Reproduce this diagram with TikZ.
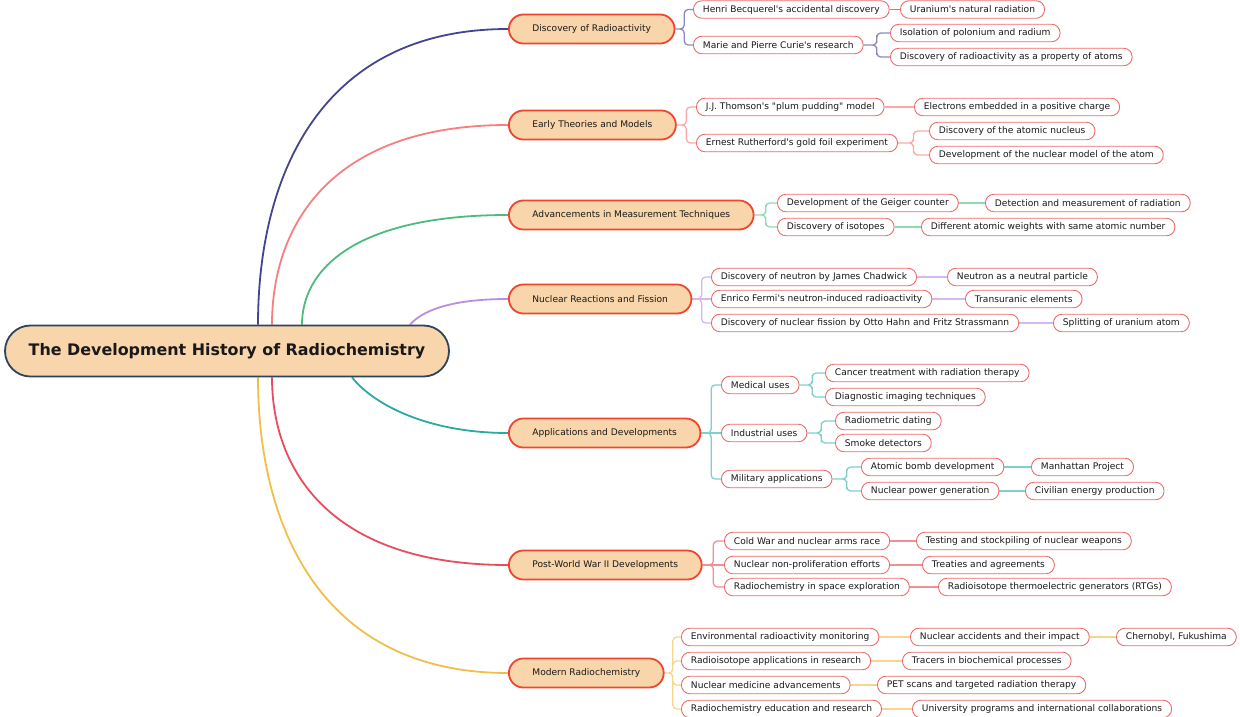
\documentclass[tikz,border=0pt]{standalone}
\usepackage{fontspec}
\setmainfont{DejaVu Sans}[Ligatures=TeXOff]
\usepackage{tikz}
\usetikzlibrary{calc,backgrounds}

\definecolor{peach}{HTML}{F8D5AA}
\definecolor{rootline}{HTML}{2B4462}
\definecolor{topicline}{HTML}{F0452E}
\definecolor{itemline}{HTML}{EE6B6B}
\definecolor{navy}{HTML}{45458F}
\definecolor{navyl}{HTML}{8A8AC4}
\definecolor{salmon}{HTML}{F77F7F}
\definecolor{salmonl}{HTML}{F9A9A9}
\definecolor{mint}{HTML}{4CBB7E}
\definecolor{mintl}{HTML}{8FD8B0}
\definecolor{lavender}{HTML}{B88DE3}
\definecolor{lavenderl}{HTML}{D4B8EE}
\definecolor{teal}{HTML}{2BAAA0}
\definecolor{teall}{HTML}{7FCFCA}
\definecolor{rose}{HTML}{E84D5E}
\definecolor{rosel}{HTML}{EE8F99}
\definecolor{gold}{HTML}{F2BE4A}
\definecolor{goldl}{HTML}{F6D68C}

\begin{document}
\begin{tikzpicture}[
    x=1pt, y=-1pt,
    font=\fontsize{9.1}{11}\selectfont,
    every node/.style={text=black!90},
    root/.style={rectangle, draw=rootline, line width=1.8pt, fill=peach, rounded corners=25.5pt, minimum width=444pt, minimum height=51pt, font=\fontsize{15.9}{19}\selectfont\bfseries},
    topic/.style={rectangle, draw=topicline, line width=1.8pt, fill=peach, rounded corners=14.5pt, minimum height=29pt, inner xsep=23.5pt, anchor=west},
    item/.style={rectangle, draw=itemline, line width=0.9pt, fill=white, rounded corners=8.5pt, minimum height=17.5pt, inner xsep=9.5pt, inner ysep=0pt, anchor=west},
    branch/.style={line width=1.8pt},
    link/.style={line width=1.3pt, rounded corners=4pt, to path={-| ($(\tikztostart)!0.5!(\tikztotarget)$) |- (\tikztotarget)}}
]
\useasboundingbox (0,0) rectangle (1240,716);

\node[root] (root) at (227,351) {The Development History of Radiochemistry};

% Discovery of Radioactivity
\node[topic] (disc) at (508,29) {Discovery of Radioactivity};
\node[item] (becq) at (693,9.5) {Henri Becquerel's accidental discovery};
\node[item] (curie) at (693,45) {Marie and Pierre Curie's research};
\node[item] (uran) at (900,9.5) {Uranium's natural radiation};
\node[item] (polo) at (890,33) {Isolation of polonium and radium};
\node[item] (prop) at (890,57) {Discovery of radioactivity as a property of atoms};

% Early Theories and Models
\node[topic] (early) at (508,125) {Early Theories and Models};
\node[item] (thom) at (696,107) {J.J. Thomson's "plum pudding" model};
\node[item] (ruth) at (696,143) {Ernest Rutherford's gold foil experiment};
\node[item] (elec) at (914,107) {Electrons embedded in a positive charge};
\node[item] (nucl) at (929,131) {Discovery of the atomic nucleus};
\node[item] (model) at (929,155) {Development of the nuclear model of the atom};

% Advancements in Measurement Techniques
\node[topic] (meas) at (508,215) {Advancements in Measurement Techniques};
\node[item] (geig) at (777,203) {Development of the Geiger counter};
\node[item] (isot) at (777,227) {Discovery of isotopes};
\node[item] (detect) at (985,203) {Detection and measurement of radiation};
\node[item] (weights) at (921,227) {Different atomic weights with same atomic number};

% Nuclear Reactions and Fission
\node[topic] (fiss) at (508,299) {Nuclear Reactions and Fission};
\node[item] (chad) at (711,277) {Discovery of neutron by James Chadwick};
\node[item] (fermi) at (711,299) {Enrico Fermi's neutron-induced radioactivity};
\node[item] (hahn) at (711,323) {Discovery of nuclear fission by Otto Hahn and Fritz Strassmann};
\node[item] (neut) at (947,277) {Neutron as a neutral particle};
\node[item] (trans) at (965,299) {Transuranic elements};
\node[item] (split) at (1053,323) {Splitting of uranium atom};

% Applications and Developments
\node[topic] (appl) at (508,433) {Applications and Developments};
\node[item] (med) at (721,385) {Medical uses};
\node[item] (ind) at (721,433) {Industrial uses};
\node[item] (mil) at (721,479) {Military applications};
\node[item] (cancer) at (825,373) {Cancer treatment with radiation therapy};
\node[item] (diag) at (825,397) {Diagnostic imaging techniques};
\node[item] (dating) at (835,421) {Radiometric dating};
\node[item] (smoke) at (835,443) {Smoke detectors};
\node[item] (bomb) at (861,467) {Atomic bomb development};
\node[item] (power) at (861,491) {Nuclear power generation};
\node[item] (manh) at (1031,467) {Manhattan Project};
\node[item] (civil) at (1025,491) {Civilian energy production};

% Post-World War II Developments
\node[topic] (post) at (508,565) {Post-World War II Developments};
\node[item] (cold) at (724,541) {Cold War and nuclear arms race};
\node[item] (nonp) at (724,565) {Nuclear non-proliferation efforts};
\node[item] (space) at (724,587) {Radiochemistry in space exploration};
\node[item] (stock) at (916,541) {Testing and stockpiling of nuclear weapons};
\node[item] (treat) at (922,565) {Treaties and agreements};
\node[item] (rtg) at (938,587) {Radioisotope thermoelectric generators (RTGs)};

% Modern Radiochemistry
\node[topic] (modern) at (508,673) {Modern Radiochemistry};
\node[item] (env) at (681,637) {Environmental radioactivity monitoring};
\node[item] (resr) at (681,661) {Radioisotope applications in research};
\node[item] (nmed) at (681,685) {Nuclear medicine advancements};
\node[item] (educ) at (681,709) {Radiochemistry education and research};
\node[item] (acc) at (910,637) {Nuclear accidents and their impact};
\node[item] (tracer) at (902,661) {Tracers in biochemical processes};
\node[item] (pet) at (877,685) {PET scans and targeted radiation therapy};
\node[item] (univ) at (912,709) {University programs and international collaborations};
\node[item] (cher) at (1116,637) {Chernobyl, Fukushima};

\begin{scope}[on background layer]
% main branches
\draw[branch, navy] ([xshift=31pt]root.north) .. controls (258,177) and (320,29) .. (disc.west);
\draw[branch, salmon] ([xshift=45pt]root.north) .. controls (272,225) and (331,125) .. (early.west);
\draw[branch, mint] ([xshift=75pt]root.north) .. controls (302,270) and (354,215) .. (meas.west);
\draw[branch, lavender] ([xshift=183pt]root.north) .. controls (422,311) and (450,299) .. (fiss.west);
\draw[branch, teal] ([xshift=125pt]root.south) .. controls (375,406) and (430,433) .. (appl.west);
\draw[branch, rose] ([xshift=45pt]root.south) .. controls (272,471) and (331,565) .. (post.west);
\draw[branch, gold] ([xshift=31pt]root.south) .. controls (258,525) and (320,673) .. (modern.west);

% sub branches
\draw[link, navyl] (disc.east) to (becq.west) (disc.east) to (curie.west)
    (curie.east) to (polo.west) (curie.east) to (prop.west);
\draw[link, navyl] (becq.east) -- (uran.west);

\draw[link, salmonl] (early.east) to (thom.west) (early.east) to (ruth.west)
    (ruth.east) to (nucl.west) (ruth.east) to (model.west);
\draw[link, salmonl] (thom.east) -- (elec.west);

\draw[link, mintl] (meas.east) to (geig.west) (meas.east) to (isot.west);
\draw[link, mintl] (geig.east) -- (detect.west) (isot.east) -- (weights.west);

\draw[link, lavenderl] (fiss.east) to (chad.west) (fiss.east) to (hahn.west);
\draw[link, lavenderl] (fiss.east) -- (fermi.west) (chad.east) -- (neut.west)
    (fermi.east) -- (trans.west) (hahn.east) -- (split.west);

\draw[link, teall] (appl.east) to (med.west) (appl.east) to (mil.west)
    (med.east) to (cancer.west) (med.east) to (diag.west)
    (ind.east) to (dating.west) (ind.east) to (smoke.west)
    (mil.east) to (bomb.west) (mil.east) to (power.west);
\draw[link, teall] (appl.east) -- (ind.west) (bomb.east) -- (manh.west)
    (power.east) -- (civil.west);

\draw[link, rosel] (post.east) to (cold.west) (post.east) to (space.west);
\draw[link, rosel] (post.east) -- (nonp.west) (cold.east) -- (stock.west)
    (nonp.east) -- (treat.west) (space.east) -- (rtg.west);

\draw[link, goldl] (modern.east) to (env.west) (modern.east) to (resr.west)
    (modern.east) to (nmed.west) (modern.east) to (educ.west);
\draw[link, goldl] (env.east) -- (acc.west) (acc.east) -- (cher.west)
    (resr.east) -- (tracer.west) (nmed.east) -- (pet.west)
    (educ.east) -- (univ.west);
\end{scope}

\end{tikzpicture}
\end{document}
